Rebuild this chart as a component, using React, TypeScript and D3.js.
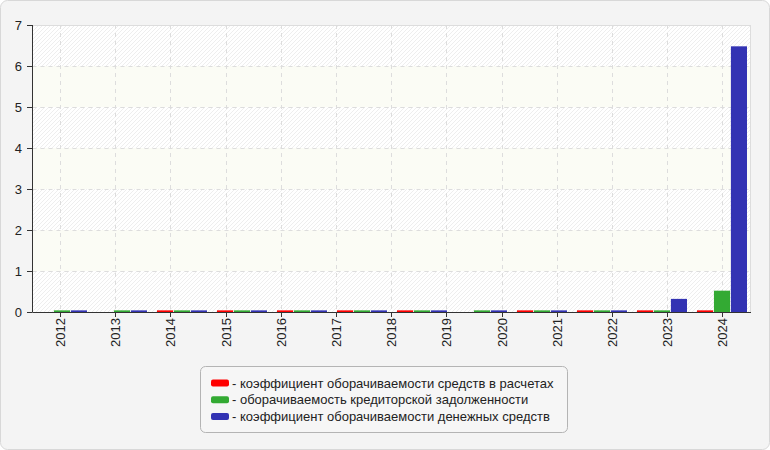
import React from "react";
import * as d3 from "d3";

const categories = ["2012", "2013", "2014", "2015", "2016", "2017", "2018", "2019", "2020", "2021", "2022", "2023", "2024"];
// bar slots (the reference places 12 bar groups across the plot)
const barSlots = ["2013", "2014", "2015", "2016", "2017", "2018", "2019", "2020", "2021", "2022", "2023", "2024"];
const seriesNames = [
  "- коэффициент оборачиваемости средств в расчетах",
  "- оборачиваемость кредиторской задолженности",
  "- коэффициент оборачиваемости денежных средств",
];
const seriesColors = ["#ff0000", "#33aa33", "#3333b3"];
const receivablesTurnover = [0, 0, 0.04, 0.04, 0.04, 0.04, 0.04, 0, 0.04, 0.04, 0.04, 0.04];
const payablesTurnover = [0.04, 0.04, 0.04, 0.04, 0.04, 0.04, 0.04, 0.04, 0.04, 0.04, 0.04, 0.52];
const cashTurnover = [0.04, 0.04, 0.04, 0.04, 0.04, 0.04, 0.04, 0.04, 0.04, 0.04, 0.32, 6.48];
const yTicks = [0, 1, 2, 3, 4, 5, 6, 7];

const W = 770;
const H = 450;
const plot = { left: 32.5, right: 750, top: 25, bottom: 312 };
const FONT = "'Liberation Sans', Arial, sans-serif";

export default function App() {
  const series = [receivablesTurnover, payablesTurnover, cashTurnover];
  const y = d3.scaleLinear().domain([0, 7]).range([plot.bottom, plot.top]);
  const xTick = d3.scaleBand<string>().domain(categories).range([plot.left, plot.right]);
  const xSlot = d3
    .scaleBand<string>()
    .domain(barSlots)
    .range([32, 752])
    .paddingInner(1 / 6)
    .paddingOuter(1 / 12);
  const xInner = d3
    .scaleBand<number>()
    .domain([0, 1, 2])
    .range([0, xSlot.bandwidth()])
    .paddingInner(0.05);

  const pw = plot.right - plot.left;
  const bands = [1, 3, 5];

  return (
    <div style={{ position: "absolute", left: 0, top: 0 }}>
      <svg width={W} height={H} style={{ display: "block" }} fontFamily={FONT}>
        <defs>
          <pattern id="hatch" patternUnits="userSpaceOnUse" width="4" height="4">
            <rect width="4" height="4" fill="#ffffff" />
            <path d="M-1,1 l2,-2 M0,4 l4,-4 M3,5 l2,-2" stroke="#eeeeee" strokeWidth="1" />
          </pattern>
        </defs>
        <rect x={0.5} y={0.5} width={W - 1} height={H - 1} rx={7} fill="#f4f4f4" stroke="#d8d8d8" />
        <rect x={plot.left} y={plot.top} width={pw} height={plot.bottom - plot.top} fill="url(#hatch)" />
        {bands.map((b) => (
          <rect key={b} x={plot.left} y={y(b + 1)} width={pw} height={y(b) - y(b + 1)} fill="#fbfcf5" />
        ))}
        {/* horizontal grid */}
        {yTicks.slice(1, -1).map((t) => (
          <line key={t} x1={plot.left} x2={plot.right} y1={y(t) + 0.5} y2={y(t) + 0.5} stroke="#dddddd" strokeDasharray="4,4" />
        ))}
        {/* vertical grid */}
        {categories.map((c) => {
          const cx = Math.round((xTick(c) as number) + xTick.bandwidth() / 2) + 0.5;
          return <line key={c} x1={cx} x2={cx} y1={plot.top} y2={plot.bottom} stroke="#dddddd" strokeDasharray="4,4" />;
        })}
        {/* frame */}
        <line x1={plot.left} x2={plot.right} y1={plot.top + 0.5} y2={plot.top + 0.5} stroke="#dddddd" />
        <line x1={plot.right + 0.5} x2={plot.right + 0.5} y1={plot.top} y2={plot.bottom} stroke="#dddddd" />
        {/* bars */}
        {barSlots.map((s, i) => (
          <g key={s} transform={`translate(${xSlot(s)},0)`}>
            {series.map((vals, k) => {
              const v = vals[i];
              if (!v) return null;
              return (
                <rect
                  key={k}
                  x={xInner(k)}
                  y={y(v)}
                  width={xInner.bandwidth()}
                  height={y(0) - y(v)}
                  fill={seriesColors[k]}
                />
              );
            })}
          </g>
        ))}
        {/* axes */}
        <line x1={plot.left} x2={plot.left} y1={plot.top} y2={plot.bottom} stroke="#333" />
        <line x1={plot.left} x2={plot.right + 1} y1={plot.bottom + 0.5} y2={plot.bottom + 0.5} stroke="#333" />
        {yTicks.map((t) => (
          <g key={t}>
            <line x1={27} x2={plot.left} y1={y(t) + 0.5} y2={y(t) + 0.5} stroke="#333" />
            <text x={22} y={y(t)} dy="0.35em" textAnchor="end" fontSize={13} fill="#222">
              {t}
            </text>
          </g>
        ))}
        {categories.map((c) => {
          const cx = Math.round((xTick(c) as number) + xTick.bandwidth() / 2) + 0.5;
          return (
            <g key={c}>
              <line x1={cx} x2={cx} y1={plot.bottom} y2={plot.bottom + 5} stroke="#333" />
              <text
                transform={`translate(${cx},${plot.bottom + 6}) rotate(-90)`}
                dy="0.35em"
                textAnchor="end"
                fontSize={13}
                fill="#222"
              >
                {c}
              </text>
            </g>
          );
        })}
        {/* legend */}
        <rect x={200.5} y={366.5} width={367} height={66} rx={5} fill="#f6f6f6" stroke="#b4b4b4" />
        {seriesNames.map((n, k) => (
          <g key={n} transform={`translate(0,${383 + k * 16.7})`}>
            <rect x={211} y={-3.5} width={18} height={7} rx={2} fill={seriesColors[k]} />
            <text x={232} y={0} dy="0.35em" fontSize={13} fill="#222">
              {n}
            </text>
          </g>
        ))}
      </svg>
    </div>
  );
}
